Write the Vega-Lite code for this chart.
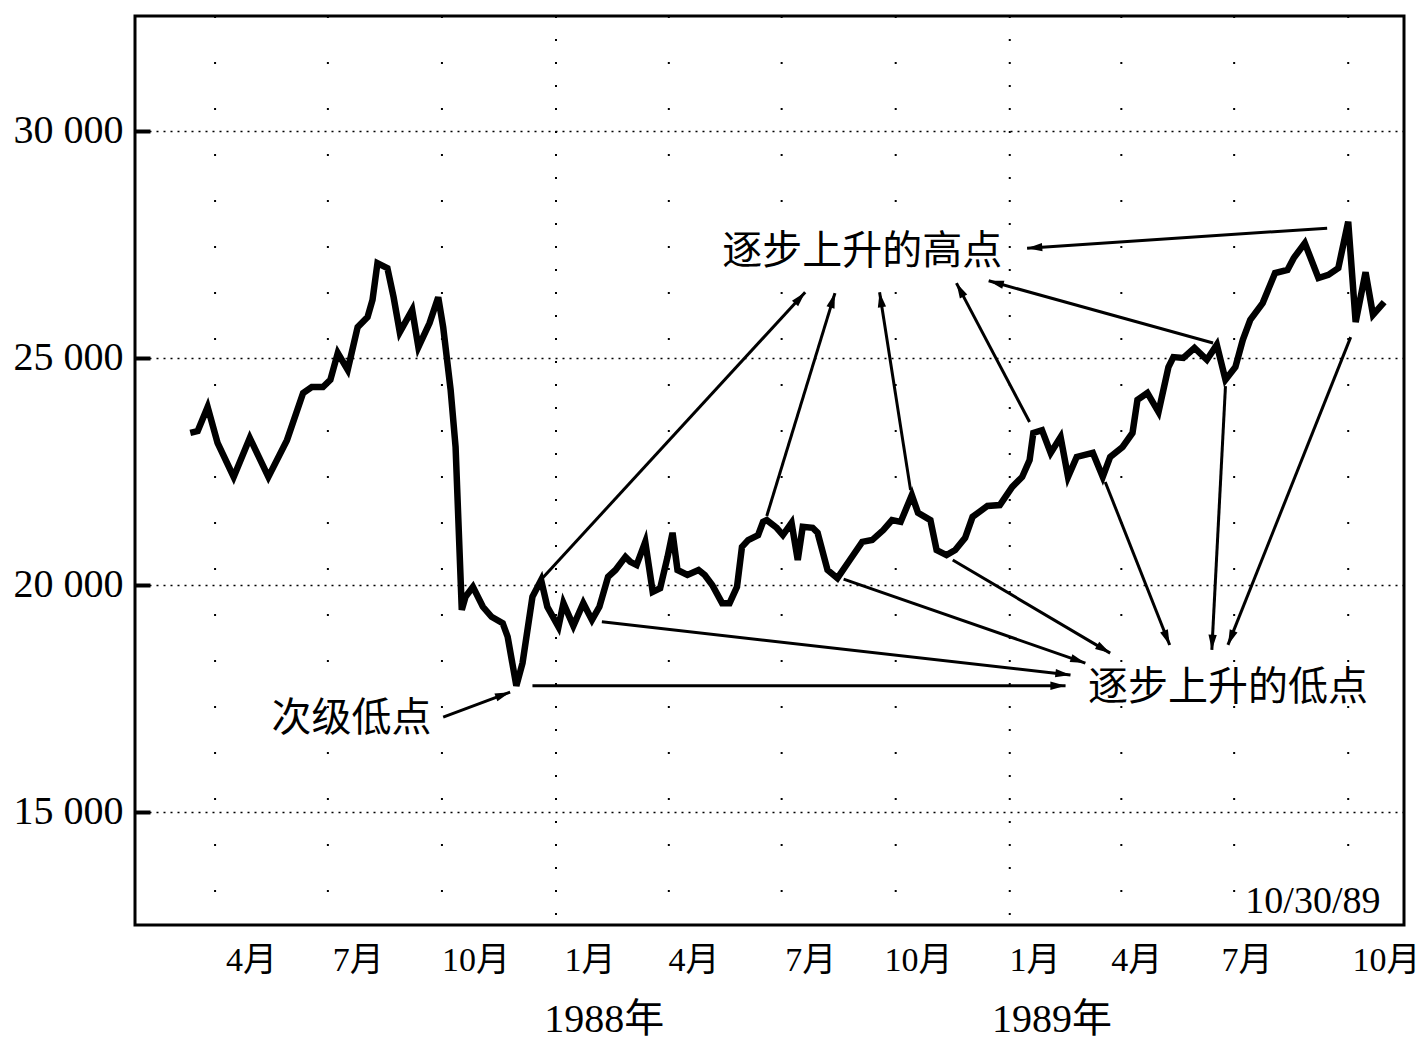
{
  "$schema": "https://vega.github.io/schema/vega-lite/v6.json",
  "width": 1269,
  "height": 909,
  "autosize": "none",
  "padding": {"left": 135, "top": 16, "right": 22, "bottom": 121},
  "background": "white",
  "config": {
    "view": {"stroke": "black", "strokeWidth": 3},
    "font": "Liberation Serif, Noto Sans CJK SC"
  },
  "datasets": {
    "series": [
      {"date": "1987-03-12", "value": 23350},
      {"date": "1987-03-18", "value": 23390},
      {"date": "1987-03-26", "value": 23920},
      {"date": "1987-04-03", "value": 23130},
      {"date": "1987-04-16", "value": 22380},
      {"date": "1987-04-29", "value": 23240},
      {"date": "1987-05-14", "value": 22380},
      {"date": "1987-05-29", "value": 23190},
      {"date": "1987-06-11", "value": 24230},
      {"date": "1987-06-18", "value": 24360},
      {"date": "1987-06-27", "value": 24360},
      {"date": "1987-07-03", "value": 24520},
      {"date": "1987-07-09", "value": 25110},
      {"date": "1987-07-17", "value": 24740},
      {"date": "1987-07-25", "value": 25680},
      {"date": "1987-08-02", "value": 25900},
      {"date": "1987-08-06", "value": 26280},
      {"date": "1987-08-10", "value": 27090},
      {"date": "1987-08-18", "value": 26980},
      {"date": "1987-08-23", "value": 26340},
      {"date": "1987-08-28", "value": 25570},
      {"date": "1987-09-07", "value": 26060},
      {"date": "1987-09-12", "value": 25240},
      {"date": "1987-09-21", "value": 25770},
      {"date": "1987-09-28", "value": 26340},
      {"date": "1987-10-02", "value": 25680},
      {"date": "1987-10-08", "value": 24300},
      {"date": "1987-10-12", "value": 23040},
      {"date": "1987-10-17", "value": 19450},
      {"date": "1987-10-20", "value": 19740},
      {"date": "1987-10-26", "value": 19960},
      {"date": "1987-11-03", "value": 19520},
      {"date": "1987-11-10", "value": 19300},
      {"date": "1987-11-19", "value": 19160},
      {"date": "1987-11-23", "value": 18860},
      {"date": "1987-11-30", "value": 17780},
      {"date": "1987-12-05", "value": 18280},
      {"date": "1987-12-13", "value": 19740},
      {"date": "1987-12-20", "value": 20110},
      {"date": "1987-12-25", "value": 19520},
      {"date": "1988-01-03", "value": 19080},
      {"date": "1988-01-07", "value": 19600},
      {"date": "1988-01-15", "value": 19100},
      {"date": "1988-01-23", "value": 19600},
      {"date": "1988-01-30", "value": 19230},
      {"date": "1988-02-05", "value": 19520},
      {"date": "1988-02-12", "value": 20180},
      {"date": "1988-02-18", "value": 20330},
      {"date": "1988-02-26", "value": 20620},
      {"date": "1988-03-01", "value": 20510},
      {"date": "1988-03-06", "value": 20440},
      {"date": "1988-03-13", "value": 20950},
      {"date": "1988-03-19", "value": 19850},
      {"date": "1988-03-25", "value": 19930},
      {"date": "1988-03-31", "value": 20620},
      {"date": "1988-04-04", "value": 21150},
      {"date": "1988-04-08", "value": 20330},
      {"date": "1988-04-16", "value": 20220},
      {"date": "1988-04-25", "value": 20330},
      {"date": "1988-04-30", "value": 20220},
      {"date": "1988-05-06", "value": 20000},
      {"date": "1988-05-14", "value": 19600},
      {"date": "1988-05-20", "value": 19600},
      {"date": "1988-05-26", "value": 19960},
      {"date": "1988-05-30", "value": 20840},
      {"date": "1988-06-04", "value": 20990},
      {"date": "1988-06-12", "value": 21100},
      {"date": "1988-06-16", "value": 21390},
      {"date": "1988-06-19", "value": 21430},
      {"date": "1988-06-27", "value": 21260},
      {"date": "1988-07-02", "value": 21100},
      {"date": "1988-07-09", "value": 21370},
      {"date": "1988-07-14", "value": 20550},
      {"date": "1988-07-18", "value": 21280},
      {"date": "1988-07-26", "value": 21260},
      {"date": "1988-07-30", "value": 21150},
      {"date": "1988-08-07", "value": 20330},
      {"date": "1988-08-15", "value": 20150},
      {"date": "1988-08-25", "value": 20550},
      {"date": "1988-09-04", "value": 20950},
      {"date": "1988-09-12", "value": 20990},
      {"date": "1988-09-21", "value": 21210},
      {"date": "1988-09-28", "value": 21430},
      {"date": "1988-10-05", "value": 21390},
      {"date": "1988-10-14", "value": 21980},
      {"date": "1988-10-19", "value": 21590},
      {"date": "1988-10-29", "value": 21430},
      {"date": "1988-11-03", "value": 20770},
      {"date": "1988-11-11", "value": 20660},
      {"date": "1988-11-18", "value": 20770},
      {"date": "1988-11-26", "value": 21040},
      {"date": "1988-12-02", "value": 21500},
      {"date": "1988-12-14", "value": 21740},
      {"date": "1988-12-24", "value": 21760},
      {"date": "1989-01-03", "value": 22160},
      {"date": "1989-01-11", "value": 22380},
      {"date": "1989-01-17", "value": 22750},
      {"date": "1989-01-20", "value": 23350},
      {"date": "1989-01-27", "value": 23410},
      {"date": "1989-02-03", "value": 22910},
      {"date": "1989-02-11", "value": 23260},
      {"date": "1989-02-17", "value": 22380},
      {"date": "1989-02-24", "value": 22820},
      {"date": "1989-03-09", "value": 22910},
      {"date": "1989-03-17", "value": 22380},
      {"date": "1989-03-23", "value": 22820},
      {"date": "1989-04-02", "value": 23040},
      {"date": "1989-04-10", "value": 23350},
      {"date": "1989-04-14", "value": 24080},
      {"date": "1989-04-22", "value": 24230},
      {"date": "1989-05-01", "value": 23810},
      {"date": "1989-05-09", "value": 24800},
      {"date": "1989-05-13", "value": 25020},
      {"date": "1989-05-21", "value": 25000},
      {"date": "1989-05-30", "value": 25220},
      {"date": "1989-06-09", "value": 24960},
      {"date": "1989-06-17", "value": 25290},
      {"date": "1989-06-24", "value": 24520},
      {"date": "1989-07-02", "value": 24800},
      {"date": "1989-07-08", "value": 25400},
      {"date": "1989-07-14", "value": 25840},
      {"date": "1989-07-24", "value": 26210},
      {"date": "1989-08-03", "value": 26870},
      {"date": "1989-08-13", "value": 26940},
      {"date": "1989-08-18", "value": 27200},
      {"date": "1989-08-27", "value": 27530},
      {"date": "1989-09-07", "value": 26760},
      {"date": "1989-09-15", "value": 26830},
      {"date": "1989-09-23", "value": 26980},
      {"date": "1989-10-01", "value": 28000},
      {"date": "1989-10-07", "value": 25790},
      {"date": "1989-10-15", "value": 26890},
      {"date": "1989-10-21", "value": 25950},
      {"date": "1989-10-30", "value": 26230}
    ],
    "arrows": [
      {"date": "1987-12-21", "value": 20150, "date2": "1988-07-20", "value2": 26450, "angle": 42},
      {"date": "1988-06-19", "value": 21520, "date2": "1988-08-13", "value2": 26430, "angle": 17},
      {"date": "1988-10-13", "value": 22090, "date2": "1988-09-18", "value2": 26450, "angle": 351},
      {"date": "1989-01-17", "value": 23590, "date2": "1988-11-19", "value2": 26650, "angle": 332},
      {"date": "1989-06-14", "value": 25330, "date2": "1988-12-15", "value2": 26700, "angle": 285},
      {"date": "1989-09-14", "value": 27860, "date2": "1989-01-15", "value2": 27420, "angle": 266},
      {"date": "1987-12-13", "value": 17780, "date2": "1989-02-15", "value2": 17780, "angle": 90},
      {"date": "1988-02-07", "value": 19190, "date2": "1989-02-19", "value2": 18020, "angle": 96.5},
      {"date": "1988-08-20", "value": 20130, "date2": "1989-03-03", "value2": 18280, "angle": 109},
      {"date": "1988-11-16", "value": 20550, "date2": "1989-03-23", "value2": 18500, "angle": 120.6},
      {"date": "1989-03-19", "value": 22270, "date2": "1989-05-10", "value2": 18680, "angle": 158},
      {"date": "1989-06-24", "value": 24380, "date2": "1989-06-13", "value2": 18570, "angle": 183},
      {"date": "1989-10-03", "value": 25460, "date2": "1989-06-26", "value2": 18680, "angle": 202},
      {"date": "1987-10-02", "value": 17090, "date2": "1987-11-25", "value2": 17640, "angle": 69.5}
    ],
    "grid": [
      {"date": "1987-04-01", "kind": "quarter"},
      {"date": "1987-07-01", "kind": "quarter"},
      {"date": "1987-10-01", "kind": "quarter"},
      {"date": "1988-01-01", "kind": "year"},
      {"date": "1988-04-01", "kind": "quarter"},
      {"date": "1988-07-01", "kind": "quarter"},
      {"date": "1988-10-01", "kind": "quarter"},
      {"date": "1989-01-01", "kind": "year"},
      {"date": "1989-04-01", "kind": "quarter"},
      {"date": "1989-07-01", "kind": "quarter"},
      {"date": "1989-10-01", "kind": "quarter"}
    ],
    "notes": [
      {"date": "1988-09-04", "value": 27335, "label": "逐步上升的高点"},
      {"date": "1989-06-26", "value": 17731, "label": "逐步上升的低点"},
      {"date": "1987-07-20", "value": 17049, "label": "次级低点"},
      {"date": "1988-02-09", "value": 10419, "label": "1988年"},
      {"date": "1989-02-04", "value": 10419, "label": "1989年"}
    ],
    "stamp": [
      {"date": "1989-10-27", "value": 13018, "label": "10/30/89"}
    ]
  },
  "layer": [
    {
      "data": {"name": "grid"},
      "mark": {"type": "rule", "color": "black", "strokeWidth": 2},
      "encoding": {
        "x": {
          "field": "date", "type": "temporal",
          "scale": {"type": "utc", "domain": [{"year": 1987, "month": 1, "date": 26, "hours": 10, "utc": true}, {"year": 1989, "month": 11, "date": 15, "utc": true}]},
          "axis": {
            "title": null,
            "values": [
              {"year": 1987, "month": 4, "date": 30, "utc": true},
              {"year": 1987, "month": 7, "date": 25, "utc": true},
              {"year": 1987, "month": 10, "date": 28, "utc": true},
              {"year": 1988, "month": 1, "date": 28, "utc": true},
              {"year": 1988, "month": 4, "date": 21, "utc": true},
              {"year": 1988, "month": 7, "date": 24, "utc": true},
              {"year": 1988, "month": 10, "date": 19, "utc": true},
              {"year": 1989, "month": 1, "date": 21, "utc": true},
              {"year": 1989, "month": 4, "date": 13, "utc": true},
              {"year": 1989, "month": 7, "date": 11, "utc": true},
              {"year": 1989, "month": 10, "date": 31, "hours": 12, "utc": true}
            ],
            "labelExpr": "(utcmonth(datum.value) + 1) + '月'",
            "grid": false, "ticks": false, "tickSize": 0, "domain": false,
            "labelFont": "Liberation Serif, Noto Sans CJK SC",
            "labelFontSize": 34, "labelColor": "black",
            "labelPadding": 18, "labelFlush": false, "labelOverlap": false, "labelBound": false
          }
        },
        "strokeDash": {
          "field": "kind", "type": "nominal",
          "scale": {"domain": ["quarter", "year"], "range": [[2, 44], [2, 21]]},
          "legend": null
        }
      }
    },
    {
      "data": {"name": "series"},
      "mark": {"type": "line", "color": "black", "strokeWidth": 6.5, "strokeJoin": "miter"},
      "encoding": {
        "x": {"field": "date", "type": "temporal"},
        "y": {
          "field": "value", "type": "quantitative",
          "scale": {"domain": [12511, 32533], "nice": false, "zero": false},
          "axis": {
            "title": null,
            "values": [15000, 20000, 25000, 30000],
            "labelExpr": "replace(format(datum.value, ','), ',', ' ')",
            "grid": true, "gridDash": [2, 5], "gridColor": "black", "gridWidth": 1.5,
            "ticks": true, "tickSize": 15, "tickWidth": 4, "tickColor": "black",
            "offset": -15, "domain": false,
            "labelFont": "Liberation Serif", "labelFontSize": 40, "labelColor": "black",
            "labelPadding": 12
          }
        }
      }
    },
    {
      "data": {"name": "arrows"},
      "mark": {"type": "rule", "color": "black", "strokeWidth": 3},
      "encoding": {
        "x": {"field": "date", "type": "temporal"},
        "y": {"field": "value", "type": "quantitative"},
        "x2": {"field": "date2"},
        "y2": {"field": "value2"}
      }
    },
    {
      "data": {"name": "arrows"},
      "mark": {"type": "point", "filled": true, "color": "black", "opacity": 1, "size": 230, "shape": "M0,0L0.55,2L-0.55,2Z"},
      "encoding": {
        "x": {"field": "date2", "type": "temporal"},
        "y": {"field": "value2", "type": "quantitative"},
        "angle": {"field": "angle", "type": "quantitative", "scale": null}
      }
    },
    {
      "data": {"name": "notes"},
      "mark": {"type": "text", "color": "black", "fontSize": 40, "font": "Liberation Serif, Noto Sans CJK SC", "align": "center", "baseline": "middle"},
      "encoding": {
        "x": {"field": "date", "type": "temporal"},
        "y": {"field": "value", "type": "quantitative"},
        "text": {"field": "label"}
      }
    },
    {
      "data": {"name": "stamp"},
      "mark": {"type": "text", "color": "black", "fontSize": 38, "font": "Liberation Serif", "align": "right", "baseline": "middle"},
      "encoding": {
        "x": {"field": "date", "type": "temporal"},
        "y": {"field": "value", "type": "quantitative"},
        "text": {"field": "label"}
      }
    }
  ]
}
